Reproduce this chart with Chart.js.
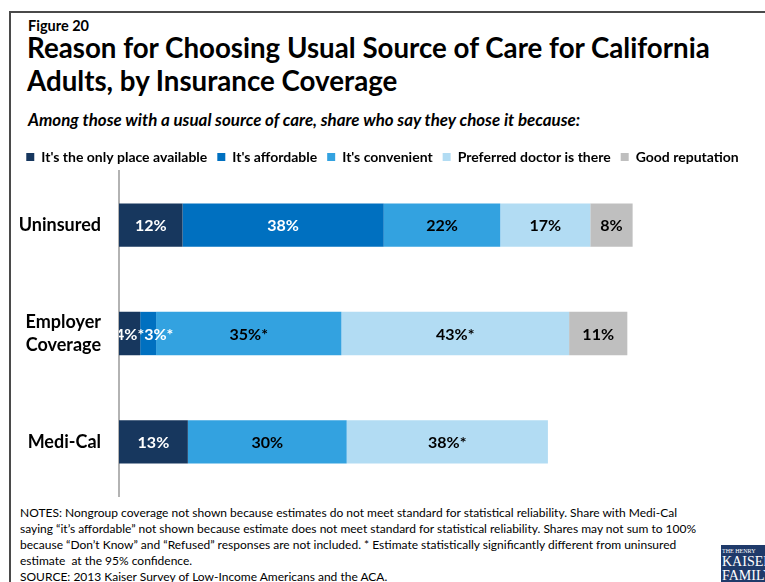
<!DOCTYPE html>
<html>
<head>
<meta charset="utf-8">
<script src="https://cdn.jsdelivr.net/npm/chart.js@4.4.1/dist/chart.umd.min.js"></script>
<style>
  html, body { margin: 0; padding: 0; background: #fff; }
  body { width: 765px; height: 582px; position: relative; overflow: hidden; font-family: Lato, "Noto Sans", sans-serif; color: #000; }
  .frame { position: absolute; left: 9px; top: 11px; width: 800px; height: 620px; border: 2px solid #4a4a4a; }
  .txt { position: absolute; white-space: nowrap; }
  #fig { left: 28px; top: 17px; font-size: 14.5px; font-weight: 700; }
  #title { left: 27px; top: 31px; font-size: 27.7px; font-weight: 700; line-height: 33px; }
  #sub { left: 28px; top: 109px; font-size: 16.9px; font-weight: 700; font-style: italic; }
  #notes { left: 20px; top: 505px; font-size: 12px; line-height: 16px; }
  #reasonsChart { position: absolute; left: 0; top: 140px; }
  .logo { position: absolute; left: 721px; top: 545px; width: 50px; height: 37px; background: #1f3a6a; color: #fff;
          font-family: "Liberation Serif", serif; overflow: hidden; line-height: 1; }
  .logo div { white-space: nowrap; padding-left: 1px; }
</style>
</head>
<body>
<div class="frame"></div>
<div class="txt" id="fig">Figure 20</div>
<div class="txt" id="title">Reason for Choosing Usual Source of Care for California<br>Adults, by Insurance Coverage</div>
<div class="txt" id="sub">Among those with a usual source of care, share who say they chose it because:</div>
<canvas id="reasonsChart" width="765" height="360"></canvas>
<div class="txt" id="notes">NOTES: Nongroup coverage not shown because estimates do not meet standard for statistical reliability. Share with Medi-Cal<br>saying “it’s affordable” not shown because estimate does not meet standard for statistical reliability. Shares may not sum to 100%<br>because “Don’t Know” and “Refused” responses are not included. * Estimate statistically significantly different from uninsured<br>estimate&nbsp; at the 95% confidence.<br>SOURCE: 2013 Kaiser Survey of Low-Income Americans and the ACA.</div>
<div class="logo">
  <div style="font-size:6px;margin-top:3px;">THE HENRY</div>
  <div style="font-size:14px;margin-top:1px;">KAISER</div>
  <div style="font-size:14px;">FAMILY</div>
  <div style="font-size:5px;margin-top:1px;">FOUNDATION</div>
</div>

<script>
// coverage groups (rows of the chart)
const coverage = ["Uninsured", ["Employer", "Coverage"], "Medi-Cal"];

// reasons, one series each
const reasons = ["It's the only place available", "It's affordable", "It's convenient", "Preferred doctor is there", "Good reputation"];
const onlyPlace   = [12, 4, 13];
const affordable  = [38, 3, null];
const convenient  = [22, 35, 30];
const preferredDr = [17, 43, 38];
const reputation  = [8, 11, null];

// * = significantly different from uninsured
const sigOnlyPlace   = [false, true, false];
const sigAffordable  = [false, true, false];
const sigConvenient  = [false, true, false];
const sigPreferredDr = [false, true, true];
const sigReputation  = [false, false, false];

const colors = ["#17375e", "#0070c0", "#33a2e0", "#b2dcf3", "#bfbfbf"];
const labelColors = ["#fff", "#fff", "#000", "#000", "#000"];

const series = [onlyPlace, affordable, convenient, preferredDr, reputation];
const stars = [sigOnlyPlace, sigAffordable, sigConvenient, sigPreferredDr, sigReputation];

const FONT = "Lato, 'Noto Sans', sans-serif";

// value labels in the middle of each segment; a label that would run into
// the one before it is pushed to the right
const segmentLabels = {
  id: "segmentLabels",
  afterDatasetsDraw(chart) {
    const ctx = chart.ctx;
    const area = chart.chartArea;
    ctx.save();
    ctx.beginPath();
    ctx.rect(area.left, area.top, area.right - area.left, area.bottom - area.top);
    ctx.clip();
    ctx.font = "bold 16px " + FONT;
    ctx.textBaseline = "middle";
    ctx.textAlign = "left";
    const lastEnd = {};
    chart.data.datasets.forEach((ds, di) => {
      const meta = chart.getDatasetMeta(di);
      meta.data.forEach((bar, i) => {
        const v = ds.data[i];
        if (v == null) return;
        const text = v + "%" + (stars[di][i] ? "*" : "");
        const w = ctx.measureText(text).width;
        let x = (bar.x + bar.base) / 2 - w / 2;
        if (lastEnd[i] !== undefined && x < lastEnd[i]) x = lastEnd[i];
        lastEnd[i] = x + w;
        ctx.fillStyle = labelColors[di];
        ctx.fillText(text, x, bar.y + 1);
      });
    });
    ctx.restore();
  }
};

// fixed legend height so the plot area starts right under it
const legendHeight = {
  id: "legendHeight",
  beforeInit(chart) {
    const fit = chart.legend.fit;
    chart.legend.fit = function () {
      fit.call(this);
      this.height = 31;
    };
  }
};

new Chart(document.getElementById("reasonsChart"), {
  type: "bar",
  data: {
    labels: coverage,
    datasets: series.map((d, i) => ({
      label: reasons[i],
      data: d,
      backgroundColor: colors[i],
      borderWidth: 0,
      categoryPercentage: 1,
      barPercentage: 0.4
    }))
  },
  options: {
    indexAxis: "y",
    responsive: false,
    animation: false,
    layout: { padding: { left: 0, right: 0, top: 0, bottom: 4 } },
    scales: {
      x: { stacked: true, display: false, min: 0, max: 122 },
      y: {
        stacked: true,
        grid: { display: false, drawTicks: false },
        border: { display: true, color: "#b3b3b3", width: 2 },
        ticks: {
          color: "#000",
          padding: 18,
          font: { family: FONT, size: 18, weight: "bold", lineHeight: 1.3 }
        },
        afterFit(scale) {
          scale.width = 119;
          scale.paddingTop = 0;
          scale.paddingBottom = 0;
        }
      }
    },
    plugins: {
      legend: {
        position: "top",
        labels: {
          color: "#000",
          boxWidth: 8,
          boxHeight: 8,
          padding: 10,
          font: { family: FONT, size: 14, weight: "bold" }
        }
      },
      tooltip: { enabled: false }
    }
  },
  plugins: [segmentLabels, legendHeight]
});
</script>
</body>
</html>
